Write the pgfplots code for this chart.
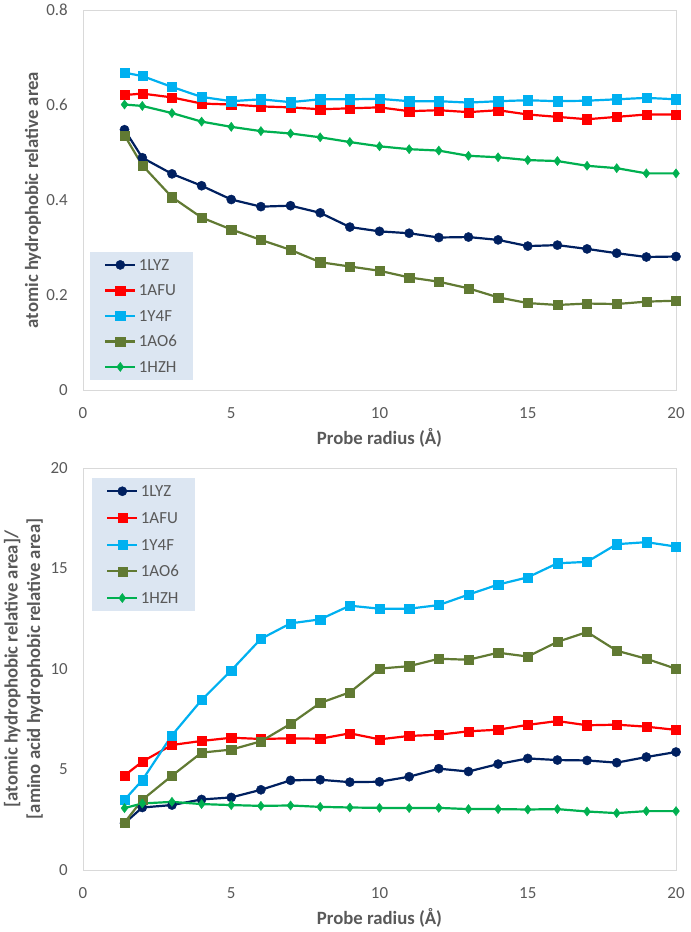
\documentclass[border=0pt]{standalone}
\usepackage{fontspec}
\setmainfont{Carlito}
\usepackage{pgfplots}
\pgfplotsset{compat=1.18}
\definecolor{cnavy}{HTML}{002060}
\definecolor{cred}{HTML}{FF0000}
\definecolor{cblue}{HTML}{00B0F0}
\definecolor{colive}{HTML}{617A33}
\definecolor{cgreen}{HTML}{00B050}
\definecolor{framegray}{HTML}{D9D9D9}
\definecolor{tickgray}{HTML}{595959}
\definecolor{legfill}{HTML}{DCE6F2}
\pgfplotsset{
  mystyle/.style={
    scale only axis, width=593bp,
    xmin=0, xmax=20, xtick={0,5,10,15,20},
    axis line style={color=framegray, line width=0.8bp},
    major tick length=0pt,
    tick label style={font=\fontsize{17}{20}\selectfont, text=tickgray},
    xticklabel style={anchor=north, inner sep=0pt, yshift=-17.5bp},
    yticklabel style={anchor=east, inner sep=0pt, xshift=-15bp},
    label style={font=\fontsize{18.8}{22.5}\selectfont\bfseries, text=tickgray},
    /pgf/number format/assume math mode=true,
    /pgf/number format/fixed,
    legend cell align=left,
    legend style={fill=legfill, draw=none, font=\fontsize{17}{20}\selectfont, text=tickgray,
      inner xsep=14bp, inner ysep=4bp,
      nodes={inner sep=2.5bp, text height=12bp, text depth=1bp}},
    legend image code/.code={\draw[mark repeat=2, mark phase=2] plot coordinates {(0bp,0bp)(15bp,0bp)(30bp,0bp)};},
    every axis plot/.append style={line width=2.2bp},
    clip=false,
  },
  s1/.style={color=cnavy, mark=*, mark size=4.6bp, mark options={line width=0.4bp}},
  s2/.style={color=cred, mark=square*, mark size=4.6bp, mark options={line width=0.4bp}},
  s3/.style={color=cblue, mark=square*, mark size=4.6bp, mark options={line width=0.4bp}},
  s4/.style={color=colive, mark=square*, mark size=4.6bp, mark options={line width=0.4bp}},
  s5/.style={color=cgreen, mark=diamond*, mark size=4.6bp, mark options={line width=0.4bp}},
}
\begin{document}
\begin{tikzpicture}
\useasboundingbox (0bp,0bp) rectangle (691bp,932bp);
% top axis
\begin{axis}[mystyle, at={(83bp,542bp)}, anchor=south west, height=380bp,
  ymin=0, ymax=0.8, ytick={0,0.2,0.4,0.6,0.8},
  /pgf/number format/precision=1,
  xlabel={Probe radius (Å)},
  xlabel style={at={(axis description cs:0.5,-0.126)}, anchor=center},
  ylabel={atomic hydrophobic relative area},
  ylabel style={at={(axis description cs:-0.0843,0.5)}, anchor=center},
  legend style={at={(axis description cs:0.0118,0.026)}, anchor=south west, row sep=7.5bp},
]
\addplot[s1] coordinates {(1.4,0.548)(2,0.489)(3,0.455)(4,0.430)(5,0.401)(6,0.386)(7,0.388)(8,0.373)(9,0.343)(10,0.334)(11,0.330)(12,0.321)(13,0.322)(14,0.316)(15,0.303)(16,0.305)(17,0.297)(18,0.288)(19,0.280)(20,0.281)};
\addlegendentry{1LYZ}
\addplot[s2] coordinates {(1.4,0.621)(2,0.624)(3,0.616)(4,0.603)(5,0.601)(6,0.597)(7,0.595)(8,0.591)(9,0.593)(10,0.595)(11,0.587)(12,0.589)(13,0.585)(14,0.589)(15,0.580)(16,0.575)(17,0.570)(18,0.575)(19,0.580)(20,0.580)};
\addlegendentry{1AFU}
\addplot[s3] coordinates {(1.4,0.668)(2,0.661)(3,0.638)(4,0.617)(5,0.608)(6,0.612)(7,0.606)(8,0.612)(9,0.612)(10,0.613)(11,0.608)(12,0.608)(13,0.605)(14,0.608)(15,0.610)(16,0.608)(17,0.609)(18,0.612)(19,0.615)(20,0.612)};
\addlegendentry{1Y4F}
\addplot[s4] coordinates {(1.4,0.536)(2,0.473)(3,0.406)(4,0.363)(5,0.338)(6,0.316)(7,0.295)(8,0.269)(9,0.260)(10,0.251)(11,0.237)(12,0.228)(13,0.214)(14,0.195)(15,0.183)(16,0.179)(17,0.182)(18,0.181)(19,0.186)(20,0.188)};
\addlegendentry{1AO6}
\addplot[s5] coordinates {(1.4,0.601)(2,0.598)(3,0.583)(4,0.565)(5,0.554)(6,0.545)(7,0.540)(8,0.532)(9,0.522)(10,0.513)(11,0.507)(12,0.504)(13,0.493)(14,0.490)(15,0.484)(16,0.482)(17,0.472)(18,0.467)(19,0.456)(20,0.456)};
\addlegendentry{1HZH}
\end{axis}
% bottom axis
\begin{axis}[mystyle, at={(83bp,62bp)}, anchor=south west, height=402bp,
  ymin=0, ymax=20, ytick={0,5,10,15,20},
  xlabel={Probe radius (Å)},
  xlabel style={at={(axis description cs:0.5,-0.119)}, anchor=center},
  ylabel={[atomic hydrophobic relative area]/\\\relax[amino acid hydrophobic relative area]},
  ylabel style={at={(axis description cs:-0.1003,0.5)}, anchor=center, align=center},
  legend style={at={(axis description cs:0.0152,0.975)}, anchor=north west, row sep=8.7bp},
]
\addplot[s1] coordinates {(1.4,2.33)(2,3.11)(3,3.23)(4,3.51)(5,3.61)(6,3.99)(7,4.46)(8,4.49)(9,4.37)(10,4.39)(11,4.64)(12,5.04)(13,4.90)(14,5.27)(15,5.55)(16,5.47)(17,5.45)(18,5.34)(19,5.62)(20,5.87)};
\addlegendentry{1LYZ}
\addplot[s2] coordinates {(1.4,4.70)(2,5.39)(3,6.22)(4,6.42)(5,6.58)(6,6.52)(7,6.55)(8,6.53)(9,6.80)(10,6.50)(11,6.67)(12,6.73)(13,6.90)(14,6.98)(15,7.22)(16,7.41)(17,7.20)(18,7.23)(19,7.13)(20,6.97)};
\addlegendentry{1AFU}
\addplot[s3] coordinates {(1.4,3.49)(2,4.47)(3,6.70)(4,8.46)(5,9.93)(6,11.50)(7,12.27)(8,12.47)(9,13.15)(10,13.00)(11,13.00)(12,13.18)(13,13.70)(14,14.20)(15,14.56)(16,15.26)(17,15.33)(18,16.21)(19,16.31)(20,16.09)};
\addlegendentry{1Y4F}
\addplot[s4] coordinates {(1.4,2.36)(2,3.49)(3,4.69)(4,5.84)(5,5.99)(6,6.40)(7,7.27)(8,8.31)(9,8.84)(10,10.02)(11,10.14)(12,10.51)(13,10.46)(14,10.81)(15,10.62)(16,11.35)(17,11.84)(18,10.91)(19,10.51)(20,10.01)};
\addlegendentry{1AO6}
\addplot[s5] coordinates {(1.4,3.08)(2,3.31)(3,3.39)(4,3.28)(5,3.23)(6,3.19)(7,3.21)(8,3.14)(9,3.11)(10,3.09)(11,3.08)(12,3.09)(13,3.03)(14,3.03)(15,3.01)(16,3.03)(17,2.91)(18,2.83)(19,2.93)(20,2.93)};
\addlegendentry{1HZH}
\end{axis}
\end{tikzpicture}
\end{document}
